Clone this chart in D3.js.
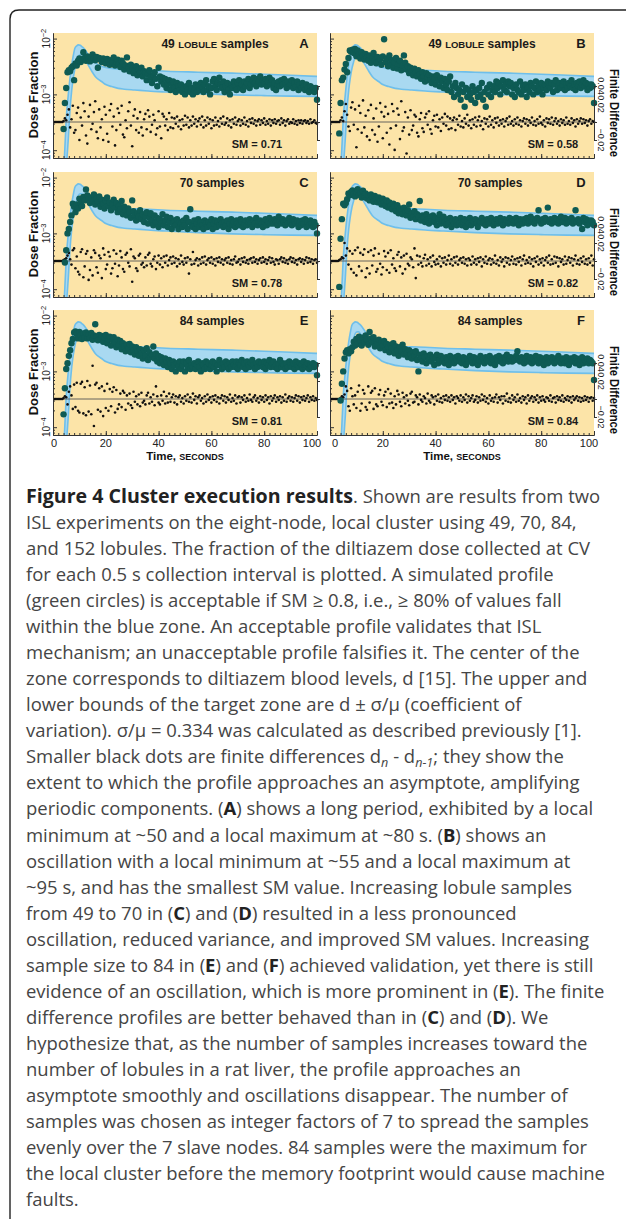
<!DOCTYPE html>
<html>
<head>
<meta charset="utf-8">
<script src="https://cdn.jsdelivr.net/npm/d3@7"></script>
<style>
  body { margin: 0; background: #fff; }
  svg { display: block; }
</style>
</head>
<body>
<svg></svg>
<script>
// ---- data -------------------------------------------------------------
// target zone (same in every panel), dose fraction in units of 1e-3
let bandTime  = [4.3, 5.0, 5.8, 6.4, 7.1, 7.7, 8.3, 9.0, 9.6, 10.3, 10.9, 11.5, 12.1, 13.4, 14.7, 16, 17.2, 18.4, 20, 22.2, 24.7, 27, 31, 36, 43, 55, 68, 80, 90, 100];
let bandUpper = [0.07, 0.35, 1.0, 1.9, 3.4, 5.0, 6.7, 7.4, 7.7, 7.6, 7.2, 6.8, 6.3, 5.1, 4.2, 3.7, 3.4, 3.2, 3.05, 2.9, 2.85, 2.8, 2.75, 2.7, 2.6, 2.5, 2.4, 2.3, 2.2, 2.1];
let bandLower = [0.03, 0.05, 0.16, 0.49, 1.2, 2.0, 2.9, 3.9, 4.8, 5.1, 5.1, 4.7, 4.2, 3.3, 2.6, 2.1, 1.85, 1.7, 1.5, 1.38, 1.28, 1.24, 1.2, 1.15, 1.1, 1.03, 0.98, 0.95, 0.93, 0.92];

// dose fraction (green circles), units of 1e-4, every 0.5 s from 3.5 s to 100 s
let doseA = [
  null,2.4,7,13,25,27,26,30,32,18, 36,33,40,44,38,42,57,45,40,48, 43,39,46,52,44,41,47,30,45,42,
  38,44,40,36,43,39,34,41,37,46, 33,38,42,35,31,40,36,28,33,46, 30,26,34,29,24,27,32,22,28,25,
  30,21,26,24,18,23,27,20,16,22, 25,19,14,30,21,17,20,15,19,13, 16,18,12,15,17,13,11,16,14,12,
  15,11,13,10,14,12,16,11,13,10, 12,15,11,14,12,16,13,11,15,18, 12,14,10,13,17,19,14,12,16,20,
  15,13,17,11,14,16,12,10,15,13, 17,14,12,16,18,13,15,12,17,14, 16,19,13,15,18,20,16,14,19,17,
  21,15,18,16,19,14,17,20,15,18, 13,16,12,15,17,14,18,15,19,16, 13,17,14,15,18,13,16,14,17,12,
  15,13,16,14,12,15,13,11,14,12, 13,11,13,8];
let doseB = [
  2,7,18,20,28,35,25,45,61,58, 63,55,65,48,61,52,44,57,49,42, 53,46,40,50,37,45,55,41,36,47,
  39,43,34,48,97,38,44,32,50,36, 41,30,37,45,29,35,40,27,33,50, 37,28,32,24,30,26,22,29,25,21,
  27,23,19,25,21,17,24,20,22,18, 16,21,19,15,22,18,14,20,17,13, 19,15,12,17,21,11,14,9,16,13,
  10,12,8,15,11,6,13,9,12,10, 8,14,11,7,12,9,13,10,16,8, 11,6,13,10,15,9,12,14,11,17,
  13,16,10,14,18,12,15,11,17,14, 16,10,13,9,15,12,11,17,10,14, 12,15,9,13,11,16,14,10,13,17,
  11,14,12,16,10,13,15,12,17,14, 13,16,11,15,18,12,14,16,13,15, 17,12,15,13,16,14,18,13,15,12,
  16,14,17,13,15,18,14,16,12,15, 13,15,14,7];
let doseC = [
  null,null,3,5,10,12,16,21,34,30, 24,33,28,42,36,31,45,39,61,48, 41,35,44,38,50,33,42,37,46,30,
  40,34,28,38,44,31,36,26,33,40, 29,35,24,31,27,38,22,30,26,21, 28,24,19,39,25,21,17,23,20,26,
  18,22,16,20,24,15,19,23,17,14, 21,16,19,13,18,15,22,14,17,20, 13,16,19,12,15,17,14,18,12,16,
  15,13,17,14,19,12,16,27,14,13, 17,12,15,18,13,16,14,12,17,15, 13,16,14,18,12,15,17,13,16,14,
  18,15,13,16,14,17,12,15,18,14, 16,13,17,15,14,18,16,13,15,17, 14,16,18,15,13,17,15,19,14,16,
  17,15,13,16,18,14,16,19,15,17, 15,18,16,14,20,17,15,18,16,14, 17,15,19,16,14,18,16,15,17,13,
  16,14,17,15,18,13,16,14,17,15, 13,16,14,10];
let doseD = [
  1.1,8,18,34,32,35,41,52,48,55, 59,51,46,56,62,49,53,44,58,47, 52,42,48,39,50,45,37,47,41,36,
  44,38,33,42,35,31,39,29,36,32, 27,34,30,25,32,23,28,26,22,29, 24,21,26,33,19,23,20,25,18,22,
  20,38,17,21,19,16,22,18,15,20, 17,21,16,19,14,18,22,15,17,20, 16,14,18,15,19,13,17,15,18,14,
  17,15,19,14,16,18,13,17,15,19, 14,17,16,18,15,13,17,16,19,15, 17,14,18,16,15,19,17,14,16,18,
  15,17,19,16,14,18,16,17,15,19, 16,18,15,17,19,16,14,18,17,15, 18,16,19,15,17,20,16,18,15,17,
  19,26,17,15,18,16,19,17,29,16, 18,15,17,19,16,18,15,17,20,16, 17,19,15,18,16,17,19,15,17,26,
  16,18,15,17,12,19,16,18,14,17, 15,17,16,14];
let doseE = [
  null,1.7,5,11,14,19,24,32,38,50, 52,47,39,51,45,38,48,41,50,39, 46,40,49,37,44,70,42,36,45,38,
  43,34,40,45,32,38,42,29,36,41, 33,27,37,30,35,25,32,28,23,30, 26,31,22,28,24,20,27,23,19,25,
  21,17,24,19,26,16,22,18,20,28, 17,21,15,19,14,18,16,13,17,15, 12,16,14,11,15,13,10,14,12,15,
  11,13,15,10,14,12,16,11,13,12, 14,11,13,15,12,10,14,13,11,15, 12,14,11,13,15,12,14,10,13,16,
  13,11,14,12,15,13,11,14,12,15, 13,12,15,11,14,13,16,12,14,11, 15,13,12,14,16,13,11,14,12,15,
  13,14,12,15,11,14,13,16,12,14, 15,12,13,11,14,16,12,14,13,11, 14,12,15,13,12,14,11,15,13,12,
  14,13,11,15,12,13,14,11,13,12, 14,12,13,8.5];
let doseF = [
  null,3,6,10,17,22,24,21,25,23, 27,34,29,38,31,42,36,29,40,33, 44,37,30,51,39,33,41,28,35,31,
  37,26,33,29,35,24,31,27,22,30, 26,32,21,28,24,19,27,23,30,20, 25,21,18,24,20,17,22,19,23,16,
  10,20,17,15,21,18,14,19,16,20, 15,18,13,17,20,14,16,19,15,17, 14,18,16,13,19,15,17,14,18,16,
  19,15,17,14,18,16,13,17,15,19, 16,14,18,15,17,13,16,19,15,17, 14,18,16,15,19,14,17,16,13,18,
  16,19,15,17,14,18,16,20,15,17, 18,15,17,16,19,23,17,15,18,16, 14,17,19,15,16,18,14,17,15,19,
  16,14,18,15,17,13,16,18,14,17, 15,18,16,14,17,15,19,16,14,17, 16,14,18,15,13,17,16,15,18,14,
  17,15,13,16,18,14,16,15,17,14, 16,15,14,7];

// finite differences (black dots), units of 1e-3, every 0.5 s from 0.5 s to 100 s
let diffA = [
  0,0,0,0,0,0,0,1,4,2, 8,14,-6,3,18,-12,-9,10,16,-20, 5,-4,21,12,-15,-24,6,19,-8,-2,
  11,23,-11,-18,14,-6,3,-20,17,8, -13,-22,13,20,-5,6,-26,-9,15,10, -3,18,-14,-17,2,-7,12,22,-4,-27,
  7,14,-9,4,-12,11,-6,-15,3,9, -8,13,6,-11,-3,8,2,-14,-7,12, -5,-18,9,6,-4,3,-9,10,-6,5,
  -7,4,-2,6,-5,2,-8,3,-4,7, -3,5,-6,2,-4,6,-2,3,-5,1, 4,-3,6,-6,2,-4,5,-2,3,-7,
  2,-4,5,-3,1,-5,4,-2,6,-3, -1,4,-4,2,-6,3,-2,5,-3,1, 3,-4,2,-2,5,-3,1,-5,3,-1,
  4,-2,2,-4,1,3,-3,2,-1,4, -3,1,-2,3,-4,2,-1,3,-2,1, 2,-3,4,-1,2,-4,1,3,-2,0,
  -1,3,-2,1,-3,2,-1,2,-2,1, 2,-1,1,-2,3,-1,0,2,-1,-2];
let diffB = [
  0,0,0,0,0,0,0,2,5,1, 12,20,8,-5,-10,16,22,-3,14,-28, -8,18,10,-12,24,-6,7,-16,13,-20,
  19,-9,4,-14,15,-22,-5,21,11,-18, 6,17,-12,9,-25,-7,20,12,-31,-4, 15,8,-19,23,-10,-6,11,-35,5,-14,
  13,-9,-4,8,6,-12,-16,3,10,-7, -11,5,9,-3,12,-8,-13,2,7,-5, 8,-6,3,-10,5,-2,9,-4,6,-8,
  4,-7,2,5,-9,3,-3,7,-5,1, -6,4,-2,8,-4,2,-7,3,-3,5, -5,2,6,-4,1,-8,4,-2,3,-5,
  6,-3,2,-6,4,-1,5,-4,2,-2, 3,-5,1,4,-3,6,-2,1,-4,3, -2,5,-3,2,-5,1,4,-2,3,-4,
  2,-1,5,-3,1,-4,3,-2,6,-1, -3,2,-5,4,-1,3,-2,5,-3,1, 4,-2,1,-4,3,-1,2,-3,5,-2,
  1,-3,4,-1,2,-5,3,-2,1,4, -2,3,-1,2,-4,1,3,-2,1,0];
let diffC = [
  0,0,0,0,0,0,0,1,2,3, 6,9,2,-4,12,14,-8,5,-12,-15, 10,13,-18,-6,8,11,-21,-10,4,-16,
  12,9,-7,-13,6,3,-19,14,7,-9, -4,10,5,-14,-8,12,-3,8,-17,-5, 11,4,-9,-12,7,9,-2,-6,13,-23,
  5,3,-8,-11,6,8,-4,-2,-7,4, -5,7,9,-3,-6,2,5,-9,-2,6, -4,3,-7,5,-2,6,-5,1,4,-3,
  5,-2,3,-6,2,-3,6,-1,-4,3, -2,4,-14,2,-4,10,-3,1,3,-5, 2,-3,4,-2,5,-4,1,3,-2,4,
  -3,2,-5,3,-1,4,-2,2,-4,1, 3,-2,4,-3,1,-4,2,5,-2,-1, 2,-4,3,-1,4,-2,1,-3,2,3,
  -2,4,-1,2,-3,1,3,-2,4,-1, 2,-3,1,4,-2,3,-1,-4,2,1, -3,2,4,-1,3,-2,1,-3,2,4,
  -1,3,-2,1,-4,2,3,-1,2,-3, 1,4,-2,3,-1,2,-3,1,2,-2];
let diffD = [
  0,0,0,0,0,0,1,2,4,3, 20,6,14,-4,11,-9,8,-13,12,-16, 15,-6,9,-11,7,13,-18,-8,10,-14,
  12,-5,6,14,-12,-9,8,-3,-15,-7, 11,5,-10,9,-13,12,-4,3,-8,-11, 7,10,-6,4,-14,6,-9,8,-3,-5,
  4,2,-7,14,-19,6,-4,5,-2,-6, 3,7,-5,2,-3,4,-6,6,-1,-4, 2,-3,5,-6,3,-2,4,-4,1,6,
  -3,2,-5,4,-2,5,-4,1,3,-2, 4,-3,2,-5,3,1,-4,5,-2,2, -4,3,-1,4,-6,2,-2,5,-3,1,
  3,-4,2,-2,6,-3,1,-5,4,-1, 2,-6,4,-2,3,-4,1,5,-3,2, -4,3,-1,4,-5,2,6,-3,1,-2,
  4,-3,2,-6,3,-1,5,-4,2,-2, 3,-5,1,4,-2,6,-4,2,-3,5, -2,4,-6,3,-1,2,-4,5,-3,1,
  4,-2,3,-5,2,6,-3,1,-4,3, -1,5,-3,2,-4,3,-2,6,-5,2];
let diffE = [
  0,0,0,0,0,0,0,1,3,2, -6,8,14,4,-11,16,-9,18,-13,-15, 17,19,-16,13,-18,20,-14,15,-17,37,
  -30,16,18,-12,12,-14,14,-19,9,-10, 17,-13,11,-8,8,13,-15,10,-11,-6, 6,-9,9,7,-12,4,-5,6,-7,-10,
  8,-3,3,-6,5,-8,7,-4,-2,-6, 4,7,-5,2,-3,5,-7,14,3,-4, -6,4,-2,8,-5,3,-4,6,-3,2,
  5,-4,3,-6,2,4,-3,1,-5,3, -2,5,-3,2,-4,6,-1,3,-5,2, 4,-2,1,-5,3,-3,5,-1,2,-4,
  3,-1,4,-3,2,-5,1,4,-2,3, -4,2,-1,5,-3,1,-2,4,-5,2, 3,-4,2,-1,4,-3,1,-2,5,-1,
  -3,2,4,-2,1,-4,3,-1,2,-3, 4,-1,2,-5,3,-2,1,4,-3,2, -1,3,-4,2,-2,5,-3,1,3,-2,
  2,-3,1,4,-2,3,-4,2,-1,3, -2,1,4,-3,2,-1,3,-2,1,-1];
let diffF = [
  0,0,0,0,0,0,0,1,3,2, 5,14,9,-8,-13,12,3,-6,4,-10, 8,15,-13,-5,10,6,-9,-12,14,-4,
  7,9,-11,12,-6,-8,5,10,-3,-7, 4,8,-9,11,-5,6,-4,-10,3,-6, 9,5,-3,-8,7,2,-5,4,-2,-7,
  6,8,-4,-3,4,2,-6,5,-1,-3, 3,1,-5,6,-2,-4,4,2,-6,3, -2,5,-3,1,-4,3,-1,4,-2,2,
  -3,4,-1,2,-5,3,1,-2,4,-3, 2,-1,5,-4,3,-2,1,4,-3,-1, 3,-4,2,-2,5,-1,3,-3,1,-5,
  4,-2,1,-3,2,5,-4,2,-1,3, -5,3,-2,6,-3,1,-4,4,-1,2, -3,5,-2,1,-4,3,-1,2,-5,4,
  -2,1,3,-3,2,-1,4,-4,2,-2, 3,-1,-3,2,1,-2,4,-3,1,2, -4,3,-1,2,-2,4,-3,1,-1,3,
  -2,2,-4,3,-1,1,3,-2,2,-3, 1,-2,3,-1,2,-3,1,2,-2,1];

let panelIds = ["A", "B", "C", "D", "E", "F"];
let sampleCounts = [49, 49, 70, 70, 84, 84];
let smallCapsWord = ["LOBULE", "LOBULE", "", "", "", ""];
let smValues = ["0.71", "0.58", "0.78", "0.82", "0.81", "0.84"];
let doseSeries = [doseA, doseB, doseC, doseD, doseE, doseF];
let diffSeries = [diffA, diffB, diffC, diffD, diffE, diffF];

let xTicks = [0, 20, 40, 60, 80, 100];
let logTicks = [1e-2, 1e-3, 1e-4];
let logTickExp = ["\u22122", "\u22123", "\u22124"];
let diffTicks = [-0.02, 0, 0.02, 0.04];
let diffTickLabels = ["\u22120.02", "", "0.02", "0.04"];

let caption = [
  "*Figure 4 Cluster execution results*. Shown are results from two",
  "ISL experiments on the eight-node, local cluster using 49, 70, 84,",
  "and 152 lobules. The fraction of the diltiazem dose collected at CV",
  "for each 0.5 s collection interval is plotted. A simulated profile",
  "(green circles) is acceptable if SM \u2265 0.8, i.e., \u2265 80% of values fall",
  "within the blue zone. An acceptable profile validates that ISL",
  "mechanism; an unacceptable profile falsifies it. The center of the",
  "zone corresponds to diltiazem blood levels, d [15]. The upper and",
  "lower bounds of the target zone are d \u00b1 \u03c3/\u03bc (coefficient of",
  "variation). \u03c3/\u03bc = 0.334 was calculated as described previously [1].",
  "Smaller black dots are finite differences d{n} - d{n-1}; they show the",
  "extent to which the profile approaches an asymptote, amplifying",
  "periodic components. (*A*) shows a long period, exhibited by a local",
  "minimum at ~50 and a local maximum at ~80 s. (*B*) shows an",
  "oscillation with a local minimum at ~55 and a local maximum at",
  "~95 s, and has the smallest SM value. Increasing lobule samples",
  "from 49 to 70 in (*C*) and (*D*) resulted in a less pronounced",
  "oscillation, reduced variance, and improved SM values. Increasing",
  "sample size to 84 in (*E*) and (*F*) achieved validation, yet there is still",
  "evidence of an oscillation, which is more prominent in (*E*). The finite",
  "difference profiles are better behaved than in (*C*) and (*D*). We",
  "hypothesize that, as the number of samples increases toward the",
  "number of lobules in a rat liver, the profile approaches an",
  "asymptote smoothly and oscillations disappear. The number of",
  "samples was chosen as integer factors of 7 to spread the samples",
  "evenly over the 7 slave nodes. 84 samples were the maximum for",
  "the local cluster before the memory footprint would cause machine",
  "faults."
];

// ---- layout -----------------------------------------------------------
let svg = d3.select("svg").attr("width", 627).attr("height", 1223),
    panelW = 264, panelH = 125,
    colX = [53, 330], rowY = [33, 172, 310],
    titleX = [162, 152, 159, 160, 159, 160],
    smX = [204, 223];

let x = d3.scaleLinear().domain([0, 100]).range([0, panelW]);
let y = d3.scaleLog().domain([Math.pow(10, -4.14), Math.pow(10, -1.9)]).range([panelH, 0]);
let yd = d3.scaleLinear().domain([-0.02, 0.04]).range([107, 53]);

let bold = "'Liberation Sans', Arial, sans-serif";

let bandData = bandTime.map(function(t, i) {
  return {t: t, lo: bandLower[i] * 1e-3, hi: bandUpper[i] * 1e-3};
});

let area = d3.area()
    .curve(d3.curveMonotoneX)
    .x(function(d) { return x(d.t); })
    .y0(function(d) { return y(d.lo); })
    .y1(function(d) { return y(d.hi); });
let upperLine = d3.line().curve(d3.curveMonotoneX)
    .x(function(d) { return x(d.t); }).y(function(d) { return y(d.hi); });
let lowerLine = d3.line().curve(d3.curveMonotoneX)
    .x(function(d) { return x(d.t); }).y(function(d) { return y(d.lo); });

// frame
svg.append("path")
    .attr("d", "M10,1219V19Q10,10 19,10H626")
    .attr("fill", "none")
    .attr("stroke", "#222")
    .attr("stroke-width", 1.4);

let defs = svg.append("defs");
let minorTicks = y.ticks().filter(function(v) { return logTicks.indexOf(v) < 0; });

function styleAxis(sel) {
  sel.selectAll("path, line").attr("stroke", "#333").attr("stroke-width", 1);
}

panelIds.forEach(function(id, i) {
  let col = i % 2, row = Math.floor(i / 2);
  let g = svg.append("g").attr("transform", "translate(" + colX[col] + "," + rowY[row] + ")");

  g.append("rect").attr("width", panelW).attr("height", panelH).attr("fill", "#fce4a8");

  defs.append("clipPath").attr("id", "clip" + id)
      .append("rect").attr("width", panelW).attr("height", panelH);

  // blue target zone
  let zone = g.append("g").attr("clip-path", "url(#clip" + id + ")");
  zone.append("path").datum(bandData).attr("d", area).attr("fill", "#a9d9f1");
  zone.append("path").datum(bandData).attr("d", upperLine)
      .attr("fill", "none").attr("stroke", "#6fbfea").attr("stroke-width", 1.6);
  zone.append("path").datum(bandData).attr("d", lowerLine)
      .attr("fill", "none").attr("stroke", "#6fbfea").attr("stroke-width", 1.6);

  // zero line of the finite differences
  g.append("line")
      .attr("x1", 0).attr("x2", panelW)
      .attr("y1", yd(0)).attr("y2", yd(0))
      .attr("stroke", "#555").attr("stroke-width", 0.9);

  // finite differences
  let diffs = diffSeries[i];
  let diffPts = diffs.map(function(v, k) {
    return {t: 0.5 + k * 99.5 / (diffs.length - 1), v: v / 1000};
  });
  g.append("g").selectAll("circle")
      .data(diffPts)
      .enter().append("circle")
      .attr("cx", function(d) { return x(d.t); })
      .attr("cy", function(d) { return yd(d.v); })
      .attr("r", 1.3)
      .attr("fill", "#111");

  // dose fraction
  let dose = doseSeries[i];
  let dosePts = dose.map(function(v, k) {
    return {t: 3.5 + k * 96.5 / (dose.length - 1), v: v === null ? null : v * 1e-4};
  }).filter(function(d) { return d.v !== null && d.v > y.domain()[0]; });
  g.append("g").selectAll("circle")
      .data(dosePts)
      .enter().append("circle")
      .attr("cx", function(d) { return x(d.t); })
      .attr("cy", function(d) { return y(d.v); })
      .attr("r", 3.2)
      .attr("fill", "#0e5b54");

  // axes
  g.append("g").call(d3.axisRight(y).tickValues(logTicks).tickSize(4).tickSizeOuter(0).tickFormat(""))
      .call(styleAxis);
  g.append("g").call(d3.axisRight(y).tickValues(minorTicks).tickSize(2).tickSizeOuter(0).tickFormat(""))
      .call(styleAxis);
  g.append("g").attr("transform", "translate(0," + panelH + ")")
      .call(d3.axisTop(x).tickValues(xTicks).tickSize(4).tickSizeOuter(0).tickFormat(""))
      .call(styleAxis);
  g.append("g").attr("transform", "translate(0," + panelH + ")")
      .call(d3.axisTop(x).tickValues(d3.range(0, 101, 2)).tickSize(2).tickSizeOuter(0).tickFormat(""))
      .call(styleAxis);
  g.append("g").attr("transform", "translate(" + panelW + ",0)")
      .call(d3.axisRight(yd).tickValues(diffTicks).tickSize(3).tickSizeOuter(3).tickFormat(""))
      .call(styleAxis);

  // panel texts
  let title = g.append("text")
      .attr("x", titleX[i]).attr("y", 15)
      .attr("text-anchor", "middle")
      .style("font", "bold 12px " + bold)
      .attr("fill", "#1a1a1a");
  title.append("tspan").text(sampleCounts[i] + " ");
  if (smallCapsWord[i]) {
    title.append("tspan").style("font-size", "9.5px").text(smallCapsWord[i]);
    title.append("tspan").text(" ");
  }
  title.append("tspan").text("samples");

  g.append("text")
      .attr("x", 251).attr("y", 15)
      .attr("text-anchor", "middle")
      .style("font", "bold 13px " + bold)
      .attr("fill", "#1a1a1a")
      .text(id);

  g.append("text")
      .attr("x", smX[col]).attr("y", 115)
      .attr("text-anchor", "middle")
      .style("font", "bold 11px " + bold)
      .attr("fill", "#1a1a1a")
      .text("SM = " + smValues[i]);

  if (col === 0) {
    // left tick labels and title
    logTicks.forEach(function(v, k) {
      let t = g.append("text")
          .attr("transform", "translate(-3," + y(v) + ") rotate(-90)")
          .attr("text-anchor", "middle")
          .style("font", "10px " + bold)
          .attr("fill", "#222");
      t.append("tspan").text("10");
      t.append("tspan").attr("dy", -4).style("font-size", "7.5px").text(logTickExp[k]);
    });
    g.append("text")
        .attr("transform", "translate(-15,62) rotate(-90)")
        .attr("text-anchor", "middle")
        .style("font", "bold 13px " + bold)
        .attr("fill", "#111")
        .text("Dose  Fraction");
  } else {
    diffTicks.forEach(function(v, k) {
      if (!diffTickLabels[k]) return;
      g.append("text")
          .attr("transform", "translate(" + (panelW + 4) + "," + yd(v) + ") rotate(90)")
          .attr("text-anchor", "middle")
          .style("font", "9px " + bold)
          .attr("fill", "#222")
          .text(diffTickLabels[k]);
    });
    g.append("text")
        .attr("transform", "translate(" + (panelW + 16) + "," + yd(0.01) + ") rotate(90)")
        .attr("text-anchor", "middle")
        .style("font", "bold 12px " + bold)
        .attr("fill", "#111")
        .attr("textLength", 88)
        .attr("lengthAdjust", "spacingAndGlyphs")
        .text("Finite Difference");
  }

  if (row === 2) {
    let nudge = function(d) {
      if (d === 100) return -5;
      if (d === 0) return col === 0 ? 1 : 5;
      return 0;
    };
    g.selectAll(".xlab")
        .data(xTicks)
        .enter().append("text")
        .attr("class", "xlab")
        .attr("x", function(d) { return x(d) + nudge(d); })
        .attr("y", panelH + 12)
        .attr("text-anchor", "middle")
        .style("font", "11px " + bold)
        .attr("fill", "#222")
        .text(function(d) { return d; });
    let xt = g.append("text")
        .attr("x", panelW / 2).attr("y", panelH + 25)
        .attr("text-anchor", "middle")
        .style("font", "bold 11.5px " + bold)
        .attr("fill", "#111");
    xt.append("tspan").text("Time, ");
    xt.append("tspan").style("font-size", "9px").text("SECONDS");
  }
});

// ---- caption ----------------------------------------------------------
let capBase = 18;
let cap = svg.append("g")
    .style("font-family", "'Open Sans', sans-serif")
    .style("font-size", capBase + "px")
    .attr("fill", "#454545");

let capLines = [], titleSpan = null;
caption.forEach(function(line, k) {
  let t = cap.append("text").attr("x", 26).attr("y", 503 + k * 26.04);
  let re = /\*([^*]+)\*|\{([^}]+)\}|([^*{]+)/g, m, shifted = false;
  while ((m = re.exec(line))) {
    let s = t.append("tspan");
    if (shifted) { s.attr("dy", -4); shifted = false; }
    if (m[1]) {
      s.attr("font-weight", 700).attr("fill", "#222").text(m[1]);
      if (k === 0 && !titleSpan) titleSpan = s;
    } else if (m[2]) {
      s.attr("dy", 4).attr("font-style", "italic").style("font-size", "0.68em").text(m[2]);
      shifted = true;
    } else {
      s.text(m[3]);
    }
  }
  capLines.push(t);
});

// fit the body size to the measured width of the second line, title to its own width
let bodySize = capBase * 551 / capLines[1].node().getComputedTextLength();
cap.style("font-size", bodySize + "px");
let titleW = titleSpan.node().getComputedTextLength();
titleSpan.style("font-size", (bodySize * 327 / titleW) + "px");
</script>
</body>
</html>
